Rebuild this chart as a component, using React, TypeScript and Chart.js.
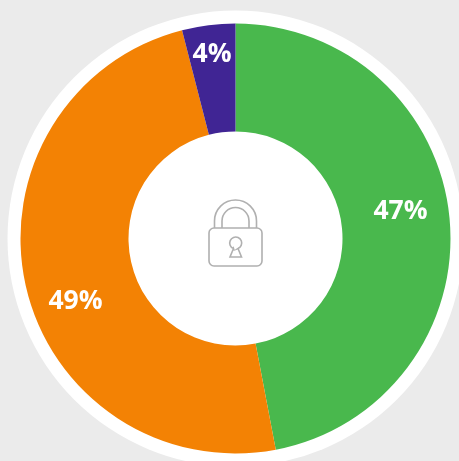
import React, { useEffect, useRef } from "react";
import { Chart, registerables } from "chart.js";

Chart.register(...registerables);

const categories = ["Green", "Orange", "Purple"];
const shares = [47, 49, 4];
const labels = ["47%", "49%", "4%"];
const colors = ["#49b84d", "#f38204", "#402594"];

const LABEL_OFFSETS = [
  { x: 165, y: -27.5 },
  { x: -160, y: 63 },
  { x: -23.5, y: -184 },
];

const decorPlugin = {
  id: "decor",
  beforeDraw(chart: any) {
    const { ctx, width, height } = chart;
    const arc = chart.getDatasetMeta(0).data[0];
    ctx.save();
    ctx.fillStyle = "#ebebeb";
    ctx.fillRect(0, 0, width, height);
    ctx.fillStyle = "#ffffff";
    ctx.beginPath();
    ctx.arc(arc.x, arc.y, arc.outerRadius + 13, 0, Math.PI * 2);
    ctx.fill();
    ctx.restore();
  },
  afterDraw(chart: any) {
    const { ctx } = chart;
    const arc = chart.getDatasetMeta(0).data[0];
    const cx = arc.x;
    const cy = arc.y;
    ctx.save();
    ctx.fillStyle = "#ffffff";
    ctx.font = "700 26.5px 'Open Sans'";
    ctx.textAlign = "center";
    ctx.textBaseline = "middle";
    labels.forEach((t, i) => {
      ctx.fillText(t, cx + LABEL_OFFSETS[i].x, cy + LABEL_OFFSETS[i].y);
    });

    ctx.translate(cx, cy);
    ctx.strokeStyle = "#b0b0b0";
    ctx.lineWidth = 1.6;
    ctx.beginPath();
    ctx.roundRect(-26.5, -10.5, 53, 38, 5);
    ctx.stroke();
    // shackle
    ctx.beginPath();
    ctx.moveTo(-21, -10.5);
    ctx.lineTo(-21, -17.5);
    ctx.arc(0, -17.5, 21, Math.PI, 0);
    ctx.lineTo(21, -10.5);
    ctx.stroke();
    ctx.beginPath();
    ctx.moveTo(-13.5, -10.5);
    ctx.lineTo(-13.5, -17.5);
    ctx.arc(0, -17.5, 13.5, Math.PI, 0);
    ctx.lineTo(13.5, -10.5);
    ctx.stroke();
    // keyhole
    ctx.beginPath();
    ctx.moveTo(-2, 10);
    ctx.lineTo(-5.5, 18.5);
    ctx.lineTo(6, 18.5);
    ctx.lineTo(2.5, 10);
    ctx.arc(0.2, 4.5, 6, 1.2, Math.PI - 1.2, true);
    ctx.closePath();
    ctx.stroke();
    ctx.restore();
  },
};

export default function App() {
  const ref = useRef<HTMLCanvasElement>(null);
  useEffect(() => {
    const chart = new Chart(ref.current!, {
      type: "doughnut",
      data: {
        labels: categories,
        datasets: [{ data: shares, backgroundColor: colors, borderWidth: 0, hoverOffset: 0 }],
      },
      options: {
        animation: false,
        responsive: false,
        cutout: 107,
        rotation: 0,
        layout: { padding: { left: 20.5, right: 8.5, top: 23.5, bottom: 7.5 } },
        plugins: { legend: { display: false }, tooltip: { enabled: false } },
      },
      plugins: [decorPlugin],
    } as any);
    return () => chart.destroy();
  }, []);
  return (
    <canvas
      ref={ref}
      width={459}
      height={461}
      style={{ position: "absolute", left: 0, top: 0, width: 459, height: 461 }}
    />
  );
}
